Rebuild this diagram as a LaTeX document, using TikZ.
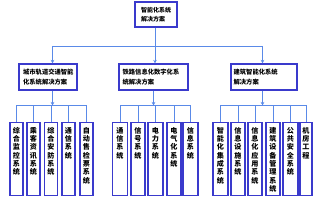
\documentclass[tikz,border=0pt]{standalone}
\usepackage{fontspec}
\newfontfamily\cjk{Noto Sans CJK SC}
\usetikzlibrary{arrows.meta}
\definecolor{boxc}{HTML}{3A3ACC}
\definecolor{linec}{HTML}{5A8AE8}
\tikzset{
  bx/.style={draw=boxc, line width=1.2pt, fill=white, inner sep=0pt},
  conn/.style={draw=linec, line width=0.9pt},
  arr/.style={conn, -{Stealth[length=3.5pt,width=3.5pt]}},
  lvltext/.style={font=\cjk\bfseries\fontsize{6.3}{10}\selectfont, align=left, anchor=west, inner sep=0pt},
  toptext/.style={font=\cjk\bfseries\fontsize{6}{8.5}\selectfont, align=left, inner sep=0pt},
  leaftext/.style={font=\cjk\bfseries\fontsize{7.1}{8.3}\selectfont, align=center, anchor=north, inner sep=0pt},
}
\newcommand{\leafbox}[4]{% name, center x, width, text
  \node[bx, minimum width=#3pt, minimum height=73pt, anchor=north] (#1) at (#2,122) {};
  \node[leaftext] (#1t) at ([yshift=-5pt]#1.north) {#4};
}
\begin{document}
\begin{tikzpicture}[x=1pt,y=-1pt]
\useasboundingbox (0,0) rectangle (326,200);
\fill[white] (0,0) rectangle (326,200);

% top
\node[bx, minimum width=42pt, minimum height=25pt] (top) at (156,14.5) {};
\node[toptext] (topt) at (top.center) {智能化系统\\解决方案};

% level 2
\node[bx, minimum width=58pt, minimum height=26pt] (la) at (48,77) {};
\node[lvltext] (lat) at ([xshift=4.5pt]la.west) {城市轨道交通智能\\化系统解决方案};
\node[bx, minimum width=69pt, minimum height=26pt] (lb) at (153.5,77) {};
\node[lvltext] (lbt) at ([xshift=4pt]lb.west) {铁路信息化数字化系\\统解决方案};
\node[bx, minimum width=66pt, minimum height=26pt] (lc) at (264,77) {};
\node[lvltext] (lct) at ([xshift=3pt]lc.west) {建筑智能化系统\\解决方案};

% junctions
\coordinate (j1) at (52.5,46);
\coordinate (j2) at (155,46);
\coordinate (j3) at (262.5,46);
\coordinate (k1) at (52.5,105.5);
\coordinate (k2) at (153.5,105.5);
\coordinate (k3) at (262.5,105.5);

% leaves group 1
\leafbox{a1}{16.5}{13}{综\\合\\监\\控\\系\\统}
\leafbox{a2}{33.5}{13}{乘\\客\\资\\讯\\系\\统}
\leafbox{a3}{51}{13}{综\\合\\安\\防\\系\\统}
\leafbox{a4}{68.5}{13}{通\\信\\系\\统}
\leafbox{a5}{86.5}{13}{自\\动\\售\\检\\票\\系\\统}
% group 2
\leafbox{b1}{120}{15}{通\\信\\系\\统}
\leafbox{b2}{138}{14}{信\\号\\系\\统}
\leafbox{b3}{155.5}{15}{电\\力\\系\\统}
\leafbox{b4}{174}{14}{电\\气\\化\\系\\统}
\leafbox{b5}{190.5}{15}{信\\息\\系\\统}
% group 3
\leafbox{c1}{220.5}{15}{智\\能\\化\\集\\成\\系\\统}
\leafbox{c2}{238}{14}{信\\息\\设\\施\\系\\统}
\leafbox{c3}{255}{14}{信\\息\\化\\应\\用\\系\\统}
\leafbox{c4}{273}{14}{建\\筑\\设\\备\\管\\理\\系\\统}
\leafbox{c5}{290.5}{15}{公\\共\\安\\全\\系\\统}
\leafbox{c6}{306}{12}{机\\房\\工\\程}

% connectors top
\draw[conn] (top.south -| j2) -- (j2);
\draw[conn] (j1) -- (j3);
\draw[arr] (j1) -- (la.north -| j1);
\draw[arr] (j2) -- (lb.north -| j2);
\draw[arr] (j3) -- (lc.north -| j3);

% level2 to buses
\draw[arr] (la.south -| k1) -- (k1);
\draw[arr] (lb.south -| k2) -- (k2);
\draw[arr] (lc.south -| k3) -- (k3);
\draw[conn] (a1.north |- k1) -- (a5.north |- k1);
\draw[conn] (b1.north |- k2) -- (b5.north |- k2);
\draw[conn] (c1.north |- k3) -- (c6.north |- k3);
\foreach \n in {a1,a2,a3,a4,a5,b1,b2,b3,b4,b5,c1,c2,c3,c4,c5,c6}{
  \draw[conn] (\n.north |- k1) -- (\n.north);
}
\end{tikzpicture}
\end{document}
